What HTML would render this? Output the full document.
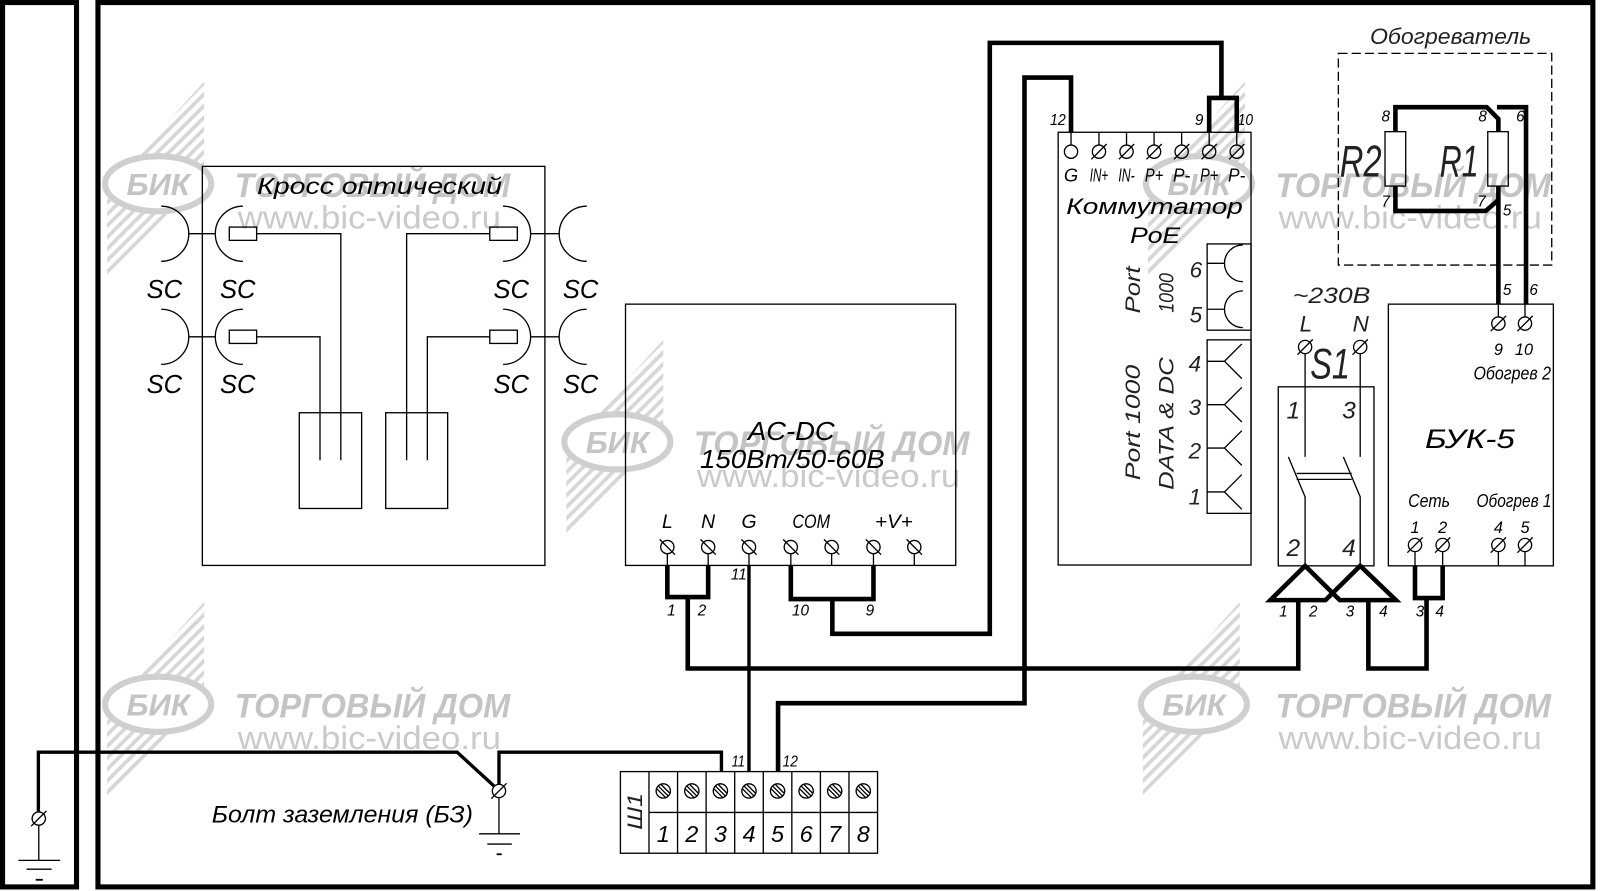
<!DOCTYPE html>
<html><head><meta charset="utf-8"><style>
html,body{margin:0;padding:0;background:#fff;}
svg{display:block;}
.t{font-family:"Liberation Sans","DejaVu Sans",sans-serif;font-style:italic;fill:#000;}
.g{font-family:"Liberation Sans","DejaVu Sans",sans-serif;font-weight:normal;font-style:italic;fill:#222;}
.wt{font-family:"Liberation Sans",sans-serif;font-weight:bold;font-style:italic;fill:#c4c4c4;}
.wu{font-family:"Liberation Sans",sans-serif;fill:#cacaca;}
.k{stroke:#000;stroke-width:4.5;fill:none;}
.m{stroke:#000;stroke-width:3.3;fill:none;}
.n{stroke:#000;stroke-width:1.3;fill:none;}
.f{stroke:#000;stroke-width:5;fill:none;}
</style></head><body>
<svg width="1600" height="891" viewBox="0 0 1568 873" preserveAspectRatio="none" xmlns="http://www.w3.org/2000/svg">
<defs>
<pattern id="hp" patternUnits="userSpaceOnUse" width="8" height="8" patternTransform="rotate(-45)">
<rect x="0" y="0" width="8" height="3.6" fill="#d6d6d6"/>
</pattern>
</defs>

<!-- watermarks -->
<g transform="translate(155,180)">
<polygon points="45,-100 45,-10 -50,95 -50,5" fill="url(#hp)"/>
<ellipse cx="0" cy="0" rx="52" ry="27" fill="#fff" stroke="#cfcfcf" stroke-width="6"/>
<text class="wt" x="-31" y="11" font-size="30" textLength="62" lengthAdjust="spacingAndGlyphs">БИК</text>
<text class="wt" x="75" y="13" font-size="34" textLength="270" lengthAdjust="spacingAndGlyphs">ТОРГОВЫЙ ДОМ</text>
<text class="wu" x="78" y="44" font-size="32" textLength="258" lengthAdjust="spacingAndGlyphs">www.bic-video.ru</text>
</g>
<g transform="translate(605,433)">
<polygon points="45,-100 45,-10 -50,95 -50,5" fill="url(#hp)"/>
<ellipse cx="0" cy="0" rx="52" ry="27" fill="#fff" stroke="#cfcfcf" stroke-width="6"/>
<text class="wt" x="-31" y="11" font-size="30" textLength="62" lengthAdjust="spacingAndGlyphs">БИК</text>
<text class="wt" x="75" y="13" font-size="34" textLength="270" lengthAdjust="spacingAndGlyphs">ТОРГОВЫЙ ДОМ</text>
<text class="wu" x="78" y="44" font-size="32" textLength="258" lengthAdjust="spacingAndGlyphs">www.bic-video.ru</text>
</g>
<g transform="translate(1175,180)">
<polygon points="45,-100 45,-10 -50,95 -50,5" fill="url(#hp)"/>
<ellipse cx="0" cy="0" rx="52" ry="27" fill="#fff" stroke="#cfcfcf" stroke-width="6"/>
<text class="wt" x="-31" y="11" font-size="30" textLength="62" lengthAdjust="spacingAndGlyphs">БИК</text>
<text class="wt" x="75" y="13" font-size="34" textLength="270" lengthAdjust="spacingAndGlyphs">ТОРГОВЫЙ ДОМ</text>
<text class="wu" x="78" y="44" font-size="32" textLength="258" lengthAdjust="spacingAndGlyphs">www.bic-video.ru</text>
</g>
<g transform="translate(155,690)">
<polygon points="45,-100 45,-10 -50,95 -50,5" fill="url(#hp)"/>
<ellipse cx="0" cy="0" rx="52" ry="27" fill="#fff" stroke="#cfcfcf" stroke-width="6"/>
<text class="wt" x="-31" y="11" font-size="30" textLength="62" lengthAdjust="spacingAndGlyphs">БИК</text>
<text class="wt" x="75" y="13" font-size="34" textLength="270" lengthAdjust="spacingAndGlyphs">ТОРГОВЫЙ ДОМ</text>
<text class="wu" x="78" y="44" font-size="32" textLength="258" lengthAdjust="spacingAndGlyphs">www.bic-video.ru</text>
</g>
<g transform="translate(1170,690)">
<polygon points="45,-100 45,-10 -50,95 -50,5" fill="url(#hp)"/>
<ellipse cx="0" cy="0" rx="52" ry="27" fill="#fff" stroke="#cfcfcf" stroke-width="6"/>
<text class="wt" x="-31" y="11" font-size="30" textLength="62" lengthAdjust="spacingAndGlyphs">БИК</text>
<text class="wt" x="80" y="13" font-size="34" textLength="270" lengthAdjust="spacingAndGlyphs">ТОРГОВЫЙ ДОМ</text>
<text class="wu" x="83" y="44" font-size="32" textLength="258" lengthAdjust="spacingAndGlyphs">www.bic-video.ru</text>
</g>

<!-- frames -->
<rect x="2.5" y="2.5" width="72.5" height="866.5" class="f"/>
<rect x="96" y="2.5" width="1465" height="866.5" class="f"/>

<!-- ===== Optical cross ===== -->
<rect x="198.3" y="163" width="335.7" height="391" class="n"/>
<text class="t" x="252" y="190" font-size="23" textLength="240" lengthAdjust="spacingAndGlyphs">Кросс оптический</text>
<g class="n">
<path d="M158,202 A27,27 0 0,1 158,256"/>
<path d="M238,202 A27,27 0 0,0 238,256"/>
<path d="M185,229 H211"/>
<rect x="224.7" y="222.5" width="26.8" height="13"/>
<path d="M251.5,229 H334 V451"/>
<path d="M493,202 A27,27 0 0,1 493,256"/>
<path d="M575,202 A27,27 0 0,0 575,256"/>
<path d="M520,229 H548"/>
<rect x="480" y="222.5" width="27" height="13"/>
<path d="M480,229 H398.5 V451"/>
<path d="M158,303 A27,27 0 0,1 158,357"/>
<path d="M238,303 A27,27 0 0,0 238,357"/>
<path d="M185,330 H211"/>
<rect x="224.7" y="323.5" width="26.8" height="13"/>
<path d="M251.5,330 H313.6 V451"/>
<path d="M493,303 A27,27 0 0,1 493,357"/>
<path d="M575,303 A27,27 0 0,0 575,357"/>
<path d="M520,330 H548"/>
<rect x="480" y="323.5" width="27" height="13"/>
<path d="M480,330 H418.8 V451"/>
<rect x="293.3" y="404.4" width="61.1" height="93.8"/>
<rect x="378" y="404.4" width="60.7" height="93.8"/>
</g>
<g class="t" font-size="25" text-anchor="middle">
<text x="161" y="292">SC</text><text x="233" y="292">SC</text>
<text x="501" y="292">SC</text><text x="569" y="292">SC</text>
<text x="161" y="385">SC</text><text x="233" y="385">SC</text>
<text x="501" y="385">SC</text><text x="569" y="385">SC</text>
</g>

<!-- ===== Ground wiring ===== -->
<path class="m" d="M37.6,795 V737 H448 L484,770"/>
<path class="m" d="M489,768 V737 H707 V756"/>
<g class="n">
<circle cx="38" cy="802" r="6.5"/><line x1="30.5" y1="809.5" x2="45.5" y2="794.5"/>
<path d="M38,808.5 V843"/>
<path d="M18,843 H59"/><path d="M26,851.6 H50.6"/>
<circle cx="489" cy="775" r="6.5"/><line x1="481.5" y1="782.5" x2="496.5" y2="767.5"/>
<path d="M489,781.5 V817"/>
<path d="M469.5,817 H509.6"/><path d="M477.6,827 H501.6"/>
</g>
<path d="M35,862 H42" stroke="#000" stroke-width="1.8"/>
<path d="M486.7,837 H491.7" stroke="#000" stroke-width="1.8"/>
<text class="t" x="207.5" y="806" font-size="24" textLength="256" lengthAdjust="spacingAndGlyphs">Болт заземления (БЗ)</text>

<!-- ===== Terminal block Ш1 ===== -->
<g class="n">
<rect x="608" y="756" width="252" height="80"/>
<path d="M636,756 V836 M664,756 V836 M692,756 V836 M720,756 V836 M748,756 V836 M776,756 V836 M804,756 V836 M832,756 V836 M636,796 H860"/>
</g>
<g class="n">
<circle cx="650" cy="775" r="7"/><path d="M645.4,770.4 L654.6,779.6 M648,768.8 L656.2,777 M643.8,773 L652,781.2"/>
<circle cx="678" cy="775" r="7"/><path d="M673.4,770.4 L682.6,779.6 M676,768.8 L684.2,777 M671.8,773 L680,781.2"/>
<circle cx="706" cy="775" r="7"/><path d="M701.4,770.4 L710.6,779.6 M704,768.8 L712.2,777 M699.8,773 L708,781.2"/>
<circle cx="734" cy="775" r="7"/><path d="M729.4,770.4 L738.6,779.6 M732,768.8 L740.2,777 M727.8,773 L736,781.2"/>
<circle cx="762" cy="775" r="7"/><path d="M757.4,770.4 L766.6,779.6 M760,768.8 L768.2,777 M755.8,773 L764,781.2"/>
<circle cx="790" cy="775" r="7"/><path d="M785.4,770.4 L794.6,779.6 M788,768.8 L796.2,777 M783.8,773 L792,781.2"/>
<circle cx="818" cy="775" r="7"/><path d="M813.4,770.4 L822.6,779.6 M816,768.8 L824.2,777 M811.8,773 L820,781.2"/>
<circle cx="846" cy="775" r="7"/><path d="M841.4,770.4 L850.6,779.6 M844,768.8 L852.2,777 M839.8,773 L848,781.2"/>
</g>
<g class="t" font-size="23" text-anchor="middle">
<text x="650" y="825">1</text><text x="678" y="825">2</text><text x="706" y="825">3</text><text x="734" y="825">4</text>
<text x="762" y="825">5</text><text x="790" y="825">6</text><text x="818" y="825">7</text><text x="846" y="825">8</text>
</g>
<text class="g" transform="translate(629,795) rotate(-90)" font-size="21" text-anchor="middle" textLength="36" lengthAdjust="spacingAndGlyphs">Ш1</text>
<g class="t" font-size="15">
<text x="717" y="751" textLength="13" lengthAdjust="spacingAndGlyphs">11</text>
<text x="767" y="751" textLength="15" lengthAdjust="spacingAndGlyphs">12</text>
</g>

<!-- ===== AC-DC ===== -->
<rect x="613" y="298" width="323.6" height="256" class="n"/>
<text class="t" x="775.5" y="431" font-size="25" text-anchor="middle" textLength="85" lengthAdjust="spacingAndGlyphs">AC-DC</text>
<text class="t" x="776.5" y="458.7" font-size="25" text-anchor="middle" textLength="181" lengthAdjust="spacingAndGlyphs">150Bm/50-60B</text>
<g class="t" font-size="19" text-anchor="middle">
<text x="654" y="517.5">L</text><text x="694" y="517.5">N</text><text x="734" y="517.5">G</text>
<text x="795" y="517.5" textLength="37" lengthAdjust="spacingAndGlyphs">COM</text>
<text x="876" y="517.5" textLength="37" lengthAdjust="spacingAndGlyphs">+V+</text>
</g>
<g class="n">
<circle cx="654" cy="536" r="6.5"/><line x1="646.5" y1="528.5" x2="661.5" y2="543.5"/><path d="M654,542.5 V554"/>
<circle cx="694" cy="536" r="6.5"/><line x1="686.5" y1="528.5" x2="701.5" y2="543.5"/><path d="M694,542.5 V554"/>
<circle cx="734" cy="536" r="6.5"/><line x1="726.5" y1="528.5" x2="741.5" y2="543.5"/><path d="M734,542.5 V554"/>
<circle cx="775" cy="536" r="6.5"/><line x1="767.5" y1="528.5" x2="782.5" y2="543.5"/><path d="M775,542.5 V554"/>
<circle cx="815" cy="536" r="6.5"/><line x1="807.5" y1="528.5" x2="822.5" y2="543.5"/><path d="M815,542.5 V554"/>
<circle cx="856" cy="536" r="6.5"/><line x1="848.5" y1="528.5" x2="863.5" y2="543.5"/><path d="M856,542.5 V554"/>
<circle cx="896" cy="536" r="6.5"/><line x1="888.5" y1="528.5" x2="903.5" y2="543.5"/><path d="M896,542.5 V554"/>
</g>
<g class="t" font-size="15" text-anchor="middle">
<text x="724" y="568">11</text>
<text x="658" y="603">1</text><text x="688" y="603">2</text>
<text x="784.5" y="603">10</text><text x="852.5" y="603">9</text>
</g>

<!-- main wires -->
<path class="k" d="M654,554 V585 H694 V554"/>
<path class="k" d="M674,585 V655 H1272.3 V588"/>
<path class="k" d="M775,554 V587 H856 V554"/>
<path class="k" d="M815.7,587 V621 H970 V42 H1197 V96"/>
<path class="k" d="M1185,129.6 V96 H1212 V129.6"/>
<path class="m" d="M734,554 V756" stroke-width="3.6"/>
<path class="k" d="M762.5,756 V689 H1004 V76 H1049.6 V129.6"/>
<path class="k" d="M1341,588 V655 H1398 V586"/>
<path class="k" d="M1386.7,554.4 V586 H1413.8 V554.4"/>

<!-- ===== PoE switch ===== -->
<rect x="1037" y="129.6" width="189" height="424" class="n"/>
<g class="n">
<circle cx="1049.6" cy="148.6" r="6.5"/><path d="M1049.6,129.6 V142"/>
<circle cx="1077" cy="148.6" r="6.5"/><line x1="1069.5" y1="156.1" x2="1084.5" y2="141.1"/><path d="M1077,129.6 V142"/>
<circle cx="1104" cy="148.6" r="6.5"/><line x1="1096.5" y1="156.1" x2="1111.5" y2="141.1"/><path d="M1104,129.6 V142"/>
<circle cx="1131" cy="148.6" r="6.5"/><line x1="1123.5" y1="156.1" x2="1138.5" y2="141.1"/><path d="M1131,129.6 V142"/>
<circle cx="1158" cy="148.6" r="6.5"/><line x1="1150.5" y1="156.1" x2="1165.5" y2="141.1"/><path d="M1158,129.6 V142"/>
<circle cx="1185" cy="148.6" r="6.5"/><line x1="1177.5" y1="156.1" x2="1192.5" y2="141.1"/><path d="M1185,129.6 V142"/>
<circle cx="1212" cy="148.6" r="6.5"/><line x1="1204.5" y1="156.1" x2="1219.5" y2="141.1"/><path d="M1212,129.6 V142"/>
</g>
<g class="t" font-size="18" text-anchor="middle">
<text x="1049.6" y="178">G</text>
<text x="1077" y="178" textLength="18" lengthAdjust="spacingAndGlyphs">IN+</text>
<text x="1104" y="178" textLength="16" lengthAdjust="spacingAndGlyphs">IN-</text>
<text x="1131" y="178" textLength="18" lengthAdjust="spacingAndGlyphs">P+</text>
<text x="1158" y="178" textLength="17" lengthAdjust="spacingAndGlyphs">P-</text>
<text x="1185" y="178" textLength="18" lengthAdjust="spacingAndGlyphs">P+</text>
<text x="1212" y="178" textLength="17" lengthAdjust="spacingAndGlyphs">P-</text>
</g>
<g class="t" font-size="15">
<text x="1029" y="122.5" textLength="15.5" lengthAdjust="spacingAndGlyphs">12</text>
<text x="1171" y="122.5">9</text>
<text x="1213" y="122.5" textLength="15" lengthAdjust="spacingAndGlyphs">10</text>
</g>
<text class="t" x="1131.5" y="209.6" font-size="22" text-anchor="middle" textLength="173" lengthAdjust="spacingAndGlyphs">Коммутатор</text>
<text class="t" x="1132" y="238" font-size="22" text-anchor="middle" textLength="49" lengthAdjust="spacingAndGlyphs">PoE</text>
<g class="n">
<rect x="1183" y="239" width="43" height="84.5"/>
<path d="M1183,258 H1200 M1218,240 A18,18 0 0,0 1218,276"/>
<path d="M1183,303 H1200 M1218,285 A18,18 0 0,0 1218,321"/>
<rect x="1183" y="333" width="43" height="170"/>
<path d="M1183,354 H1200 M1217,337 L1200,354 L1217,371"/>
<path d="M1183,396.5 H1200 M1217,379.5 L1200,396.5 L1217,413.5"/>
<path d="M1183,439 H1200 M1217,422 L1200,439 L1217,456"/>
<path d="M1183,482 H1200 M1217,465 L1200,482 L1217,499"/>
</g>
<g class="g" font-size="22" text-anchor="middle">
<text x="1172" y="272">6</text><text x="1172" y="316">5</text>
<text x="1171" y="364">4</text><text x="1171" y="406.5">3</text>
<text x="1171" y="449">2</text><text x="1171" y="494.5">1</text>
</g>
<g class="g" font-size="21" text-anchor="middle">
<text transform="translate(1117,284) rotate(-90)" textLength="46" lengthAdjust="spacingAndGlyphs">Port</text>
<text transform="translate(1150,287) rotate(-90)" textLength="39" lengthAdjust="spacingAndGlyphs">1000</text>
<text transform="translate(1117,414) rotate(-90)" textLength="113" lengthAdjust="spacingAndGlyphs">Port 1000</text>
<text transform="translate(1150,415) rotate(-90)" textLength="130" lengthAdjust="spacingAndGlyphs">DATA &amp; DC</text>
</g>

<!-- ===== S1 ===== -->
<text class="g" x="1267" y="297" font-size="22" textLength="76" lengthAdjust="spacingAndGlyphs">~230B</text>
<text class="g" x="1279.7" y="325" font-size="22" text-anchor="middle">L</text>
<text class="g" x="1333.5" y="325" font-size="22" text-anchor="middle">N</text>
<g class="n">
<circle cx="1279" cy="340" r="6.5"/><line x1="1271.5" y1="347.5" x2="1286.5" y2="332.5"/>
<circle cx="1333" cy="340" r="6.5"/><line x1="1325.5" y1="347.5" x2="1340.5" y2="332.5"/>
</g>
<text class="g" x="1284" y="371" font-size="42" textLength="39" lengthAdjust="spacingAndGlyphs">S1</text>
<g class="n">
<rect x="1252.7" y="379" width="93.8" height="175.4"/>
<path d="M1279,346.5 V447.6 M1333,346.5 V447.6"/>
<path d="M1262.6,447.6 L1279,486.8 V554.4 M1316.5,447.6 L1333,486.8 V554.4"/>
<path d="M1270.7,463.9 H1324.7 M1270.7,469.7 H1324.7"/>
</g>
<g class="g" font-size="24" text-anchor="middle">
<text x="1267.5" y="410">1</text><text x="1322" y="410">3</text>
<text x="1267.5" y="545">2</text><text x="1322" y="545">4</text>
</g>
<path class="k" d="M1299,588 L1245,588 L1279,554.4 L1313,588 L1368,588 L1333,554.4 Z" stroke-linejoin="miter"/>
<g class="t" font-size="15" text-anchor="middle">
<text x="1257.7" y="604">1</text><text x="1287" y="604">2</text>
<text x="1323" y="604">3</text><text x="1355.7" y="604">4</text>
<text x="1391.6" y="604">3</text><text x="1411" y="604">4</text>
</g>

<!-- ===== БУК-5 ===== -->
<rect x="1360.6" y="298" width="161.7" height="256.4" class="n"/>
<g class="n">
<circle cx="1468.4" cy="317" r="6.5"/><line x1="1460.9" y1="324.5" x2="1475.9" y2="309.5"/><path d="M1468.4,298 V310.5"/>
<circle cx="1494.5" cy="317" r="6.5"/><line x1="1487" y1="324.5" x2="1502" y2="309.5"/><path d="M1494.5,298 V310.5"/>
<circle cx="1386.7" cy="534" r="6.5"/><line x1="1379.2" y1="541.5" x2="1394.2" y2="526.5"/><path d="M1386.7,540.5 V554.4"/>
<circle cx="1413.8" cy="534" r="6.5"/><line x1="1406.3" y1="541.5" x2="1421.3" y2="526.5"/><path d="M1413.8,540.5 V554.4"/>
<circle cx="1468.4" cy="534" r="6.5"/><line x1="1460.9" y1="541.5" x2="1475.9" y2="526.5"/><path d="M1468.4,540.5 V554.4"/>
<circle cx="1494.5" cy="534" r="6.5"/><line x1="1487" y1="541.5" x2="1502" y2="526.5"/><path d="M1494.5,540.5 V554.4"/>
</g>
<g class="t" font-size="16" text-anchor="middle">
<text x="1468.4" y="348">9</text><text x="1493.5" y="348">10</text>
<text x="1386.7" y="522">1</text><text x="1413.8" y="522">2</text>
<text x="1468.4" y="522">4</text><text x="1494.5" y="522">5</text>
</g>
<text class="t" x="1444" y="372" font-size="18" textLength="76" lengthAdjust="spacingAndGlyphs">Обогрев 2</text>
<text class="t" x="1396.5" y="439" font-size="26" textLength="88" lengthAdjust="spacingAndGlyphs">БУК-5</text>
<text class="t" x="1380" y="497" font-size="18" textLength="41" lengthAdjust="spacingAndGlyphs">Сеть</text>
<text class="t" x="1447" y="497" font-size="18" textLength="73.5" lengthAdjust="spacingAndGlyphs">Обогрев 1</text>

<!-- ===== Heater ===== -->
<text class="g" x="1342.6" y="43" font-size="22" textLength="158" lengthAdjust="spacingAndGlyphs">Обогреватель</text>
<rect x="1311.6" y="52.3" width="209.1" height="207.4" class="n" stroke-dasharray="9,4"/>
<rect x="1357.3" y="129" width="20.3" height="53.3" class="n" stroke-width="1.5"/>
<rect x="1458" y="129" width="20.1" height="53.3" class="n" stroke-width="1.5"/>
<path class="k" stroke-width="4" d="M1367.5,129 V105 H1457 L1468.4,116.5 V129"/>
<path class="k" stroke-width="4" d="M1467,105 H1495.5 V298"/>
<path class="k" stroke-width="4" d="M1367.5,182.3 V206.7 H1456 L1468.4,196"/>
<path class="k" stroke-width="4" d="M1468.4,182.3 V298"/>
<text class="g" x="1313" y="173" font-size="44" textLength="41" lengthAdjust="spacingAndGlyphs">R2</text>
<text class="g" x="1411" y="173" font-size="44" textLength="38" lengthAdjust="spacingAndGlyphs">R1</text>
<g class="t" font-size="15" text-anchor="middle">
<text x="1358" y="119">8</text><text x="1358" y="202.5">7</text>
<text x="1453" y="119">8</text><text x="1490" y="119">6</text>
<text x="1452" y="202.5">7</text><text x="1477" y="211">5</text>
<text x="1477" y="289">5</text><text x="1503" y="289">6</text>
</g>
</svg>
</body></html>
